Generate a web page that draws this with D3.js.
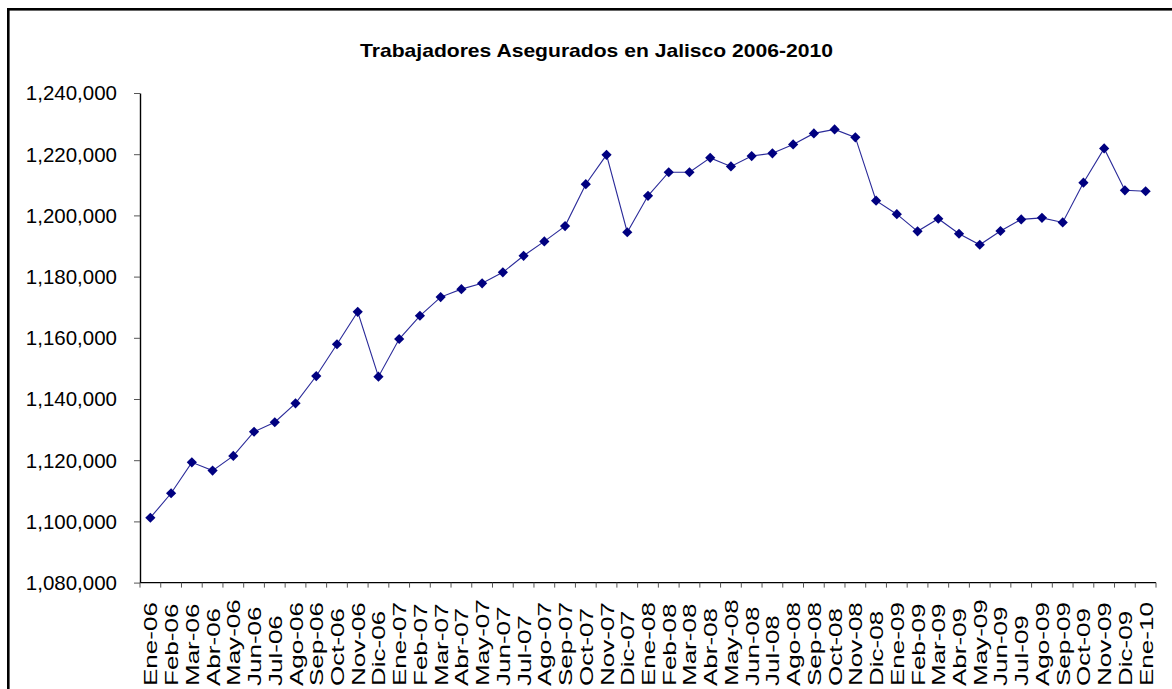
<!DOCTYPE html>
<html>
<head>
<meta charset="utf-8">
<script src="https://cdn.jsdelivr.net/npm/d3@7"></script>
<style>
  html, body { margin: 0; padding: 0; background: #fff; }
  svg { display: block; }
</style>
</head>
<body>
<svg id="chart" width="1172" height="689"></svg>
<script>
const titleText = "Trabajadores Asegurados en Jalisco 2006-2010";
const months = ["Ene-06","Feb-06","Mar-06","Abr-06","May-06","Jun-06","Jul-06","Ago-06","Sep-06","Oct-06","Nov-06","Dic-06",
  "Ene-07","Feb-07","Mar-07","Abr-07","May-07","Jun-07","Jul-07","Ago-07","Sep-07","Oct-07","Nov-07","Dic-07",
  "Ene-08","Feb-08","Mar-08","Abr-08","May-08","Jun-08","Jul-08","Ago-08","Sep-08","Oct-08","Nov-08","Dic-08",
  "Ene-09","Feb-09","Mar-09","Abr-09","May-09","Jun-09","Jul-09","Ago-09","Sep-09","Oct-09","Nov-09","Dic-09",
  "Ene-10"];
const insured = [1101200,1109200,1119300,1116600,1121400,1129300,1132400,1138600,1147500,1157900,1168500,1147300,
  1159600,1167200,1173300,1175900,1177800,1181400,1186800,1191500,1196500,1210200,1219800,1194500,
  1206400,1214100,1214100,1218800,1216000,1219400,1220300,1223200,1226800,1228100,1225500,1204800,
  1200400,1194800,1198900,1194000,1190400,1194900,1198700,1199200,1197700,1210700,1221900,1208200,
  1207900];
const yTicks = [1080000,1100000,1120000,1140000,1160000,1180000,1200000,1220000,1240000];

const svg = d3.select("#chart");
const plot = {left: 140, right: 1156, top: 93, bottom: 582.6};

// outer border
svg.append("rect")
  .attr("x", 8.3).attr("y", 9.3)
  .attr("width", 1200).attr("height", 720)
  .attr("fill", "none").attr("stroke", "#000").attr("stroke-width", 2.6);

// title
svg.append("text")
  .attr("x", 596.5).attr("y", 57)
  .attr("text-anchor", "middle")
  .attr("font-family", "Arial, 'Liberation Sans', sans-serif")
  .attr("font-weight", "bold")
  .attr("font-size", 18.5)
  .attr("textLength", 473)
  .attr("lengthAdjust", "spacingAndGlyphs")
  .attr("fill", "#000")
  .text(titleText);

const x = d3.scaleBand().domain(months).range([plot.left, plot.right]);
const y = d3.scaleLinear().domain([1080000, 1240000]).range([plot.bottom, plot.top]);
const fmt = d3.format(",");

// y axis
const yAxis = svg.append("g")
  .attr("transform", `translate(${plot.left},0)`)
  .call(d3.axisLeft(y).tickValues(yTicks).tickFormat(fmt).tickSize(6).tickSizeOuter(0).tickPadding(17));
yAxis.select(".domain").attr("stroke", "#000").attr("stroke-width", 1.4);
yAxis.selectAll(".tick line").attr("stroke", "#555").attr("stroke-width", 1);
yAxis.selectAll(".tick text")
  .attr("font-family", "Arial, 'Liberation Sans', sans-serif")
  .attr("font-size", 20.5)
  .attr("fill", "#000")
  .attr("dy", "0.34em");

// x axis line
svg.append("line")
  .attr("x1", plot.left).attr("x2", plot.right)
  .attr("y1", plot.bottom).attr("y2", plot.bottom)
  .attr("stroke", "#000").attr("stroke-width", 1.4);

// x ticks between categories
const tickPos = months.map(m => x(m)).concat([x(months[months.length - 1]) + x.bandwidth()]);
svg.append("g").selectAll("line").data(tickPos).join("line")
  .attr("x1", d => d).attr("x2", d => d)
  .attr("y1", plot.bottom).attr("y2", plot.bottom + 5)
  .attr("stroke", "#555").attr("stroke-width", 1);

// x labels (rotated, stretched along the text, bottom aligned)
svg.append("g").selectAll("text").data(months).join("text")
  .attr("transform", d => `translate(${x(d) + x.bandwidth() / 2 + 7},686) rotate(-90) scale(1.37,1)`)
  .attr("text-anchor", "start")
  .attr("font-family", "Arial, 'Liberation Sans', sans-serif")
  .attr("font-size", 19)
  .attr("fill", "#000")
  .text(d => d);

// line
const line = d3.line()
  .x((d, i) => x(months[i]) + x.bandwidth() / 2)
  .y(d => y(d));
svg.append("path")
  .datum(insured)
  .attr("d", line)
  .attr("fill", "none")
  .attr("stroke", "#2a2a99")
  .attr("stroke-width", 1.1);

// markers
const sym = d3.symbol().type(d3.symbolSquare).size(52);
svg.append("g").selectAll("path").data(insured).join("path")
  .attr("d", sym)
  .attr("transform", (d, i) => `translate(${x(months[i]) + x.bandwidth() / 2},${y(d)}) rotate(45)`)
  .attr("fill", "#000080");
</script>
</body>
</html>
